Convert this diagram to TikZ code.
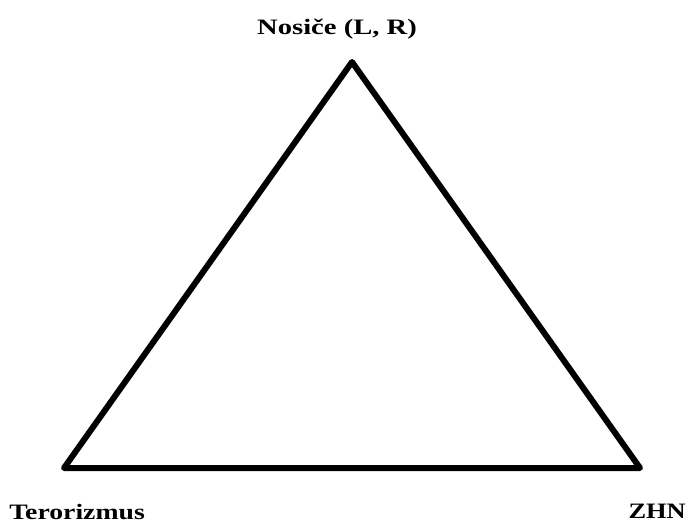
\documentclass[tikz,border=0pt]{standalone}
\usepackage{fontspec}
\setmainfont{Liberation Serif}
\usepackage{graphicx}
\begin{document}
\begin{tikzpicture}[x=0.75pt,y=-0.75pt,
  lbl/.style={inner sep=0pt,font=\fontsize{16.5}{18}\selectfont\bfseries},
  edge/.style={line width=4.5pt,line join=round}]
\useasboundingbox (0,0) rectangle (688,523);
\coordinate (A) at (352,62);
\coordinate (B) at (64,468);
\coordinate (C) at (640,468);
\draw[edge] (A) -- (B) -- (C) -- cycle;
\node[lbl,anchor=base] (ta) at (337,35) {\scalebox{1.3}[1]{Nosiče (L, R)}};
\node[lbl,anchor=base west] (tb) at (9,519) {\scalebox{1.26}[1]{Terorizmus}};
\node[lbl,anchor=base east] (tc) at (686,518) {\scalebox{1.2}[1]{ZHN}};
\end{tikzpicture}
\end{document}
